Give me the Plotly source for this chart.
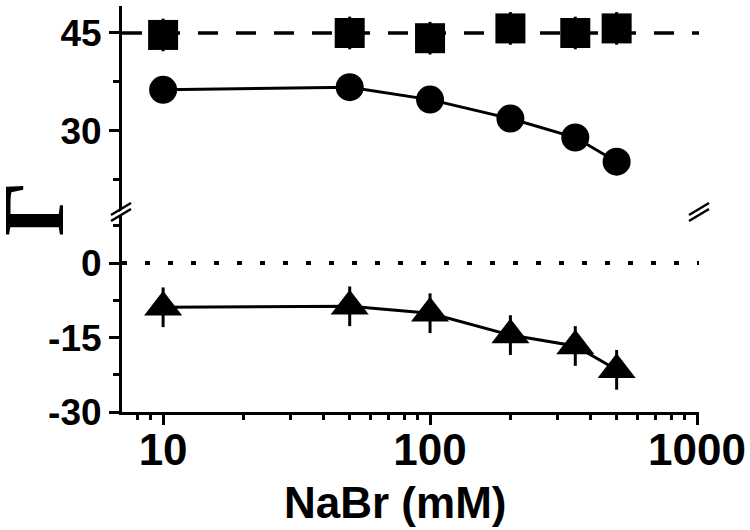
import plotly.graph_objects as go

# ---------------- data ----------------
nabr_mM = [10, 50, 100, 200, 350, 500]
gamma_square = [44.7, 45.0, 44.2, 45.7, 45.0, 45.7]
gamma_square_err = [2.5, 2.5, 2.5, 2.5, 2.5, 2.5]
gamma_circle = [36.3, 36.7, 34.8, 31.9, 29.0, 25.3]
gamma_triangle = [-8.9, -8.7, -10.1, -14.5, -16.7, -21.5]
gamma_triangle_err = [4.0, 4.0, 4.0, 4.0, 4.0, 4.0]
square_reference = 45
zero_reference = 0

x_tick_vals = [10, 100, 1000]
x_tick_text = ["10", "100", "1000"]
x_minor_vals = [7, 8, 9, 20, 30, 40, 50, 60, 70, 80, 90,
                200, 300, 400, 500, 600, 700, 800, 900]
upper_tick_vals = [30, 45]
upper_tick_text = ["30", "45"]
upper_minor_vals = [22.5, 37.5]
lower_tick_vals = [-30, -15, 0]
lower_tick_text = ["-30", "-15", "0"]
lower_minor_vals = [-22.5, -7.5, 7.5]

x_title = "NaBr (mM)"
y_title = "Γ"

# ---------------- layout geometry ----------------
W, H = 750, 530
L, R, T, B = 122, 51, 6, 118
PW, PH = W - L - R, H - T - B
BREAK_PX = 212
split = (T + PH - BREAK_PX) / PH

x_range = [0.846, 3.0075]
upper_range = [17.6, 49.13]
lower_range = [-30, 10.3]

FONT = "Liberation Sans, Arial, sans-serif"
BLACK = "#000000"


def px(xp, yp):
    return (xp - L) / PW, (T + PH - yp) / PH


fig = go.Figure()

fig.add_trace(go.Scatter(
    x=nabr_mM, y=gamma_square, xaxis="x", yaxis="y2", mode="markers",
    marker=dict(symbol="square", size=30, color=BLACK, line=dict(width=0)),
    error_y=dict(type="data", array=gamma_square_err, color=BLACK,
                 thickness=3, width=0),
    showlegend=False))

fig.add_trace(go.Scatter(
    x=nabr_mM, y=gamma_circle, xaxis="x", yaxis="y2", mode="lines+markers",
    line=dict(color=BLACK, width=3),
    marker=dict(symbol="circle", size=28, color=BLACK, line=dict(width=0)),
    showlegend=False))

fig.add_trace(go.Scatter(
    x=nabr_mM, y=gamma_triangle, xaxis="x", yaxis="y", mode="lines+markers",
    line=dict(color=BLACK, width=3),
    marker=dict(symbol="triangle-up", size=33, color=BLACK, line=dict(width=0)),
    error_y=dict(type="data", array=gamma_triangle_err, color=BLACK,
                 thickness=3, width=0),
    showlegend=False))

common_axis = dict(showgrid=False, zeroline=False, showline=True,
                   linecolor=BLACK, linewidth=3, tickcolor=BLACK,
                   tickwidth=3, automargin=False)
tick_font = dict(family=FONT, size=37, color=BLACK, weight="bold")

fig.update_layout(
    width=W, height=H,
    margin=dict(l=L, r=R, t=T, b=B, autoexpand=False),
    paper_bgcolor="white", plot_bgcolor="white",
    font=dict(family=FONT, color=BLACK),
    hovermode=False,
    xaxis=dict(type="log", range=x_range, domain=[0, 1], anchor="y",
               tickmode="array", tickvals=x_tick_vals, ticktext=x_tick_text,
               ticks="outside", ticklen=10, ticklabelstandoff=-13,
               tickfont=dict(family=FONT, size=44, color=BLACK, weight="bold"),
               minor=dict(tickmode="array", tickvals=x_minor_vals,
                          ticks="outside", ticklen=5, tickwidth=3,
                          tickcolor=BLACK, showgrid=False),
               **common_axis),
    xaxis2=dict(type="log", range=x_range, overlaying="x", anchor="y2",
                side="top", tickmode="array", tickvals=x_tick_vals,
                ticks="inside", ticklen=8, showticklabels=False,
                minor=dict(tickmode="array", tickvals=x_minor_vals,
                           ticks="inside", ticklen=4, tickwidth=3,
                           tickcolor=BLACK, showgrid=False),
                **common_axis),
    yaxis=dict(domain=[0, split], range=lower_range, anchor="x",
               tickmode="array", tickvals=lower_tick_vals,
               ticktext=lower_tick_text, ticks="outside", ticklen=10,
               tickfont=tick_font,
               minor=dict(tickmode="array", tickvals=lower_minor_vals,
                          ticks="outside", ticklen=6, tickwidth=3,
                          tickcolor=BLACK, showgrid=False),
               **common_axis),
    yaxis2=dict(domain=[split, 1], range=upper_range, anchor="x",
                tickmode="array", tickvals=upper_tick_vals,
                ticktext=upper_tick_text, ticks="outside", ticklen=10,
                tickfont=tick_font,
                minor=dict(tickmode="array", tickvals=upper_minor_vals,
                           ticks="outside", ticklen=6, tickwidth=3,
                           tickcolor=BLACK, showgrid=False),
                **common_axis),
    yaxis3=dict(overlaying="y", side="right", anchor="x", range=lower_range,
                tickmode="array", tickvals=lower_tick_vals, ticks="inside",
                ticklen=10, showticklabels=False,
                minor=dict(tickmode="array", tickvals=lower_minor_vals,
                           ticks="inside", ticklen=5, tickwidth=3,
                           tickcolor=BLACK, showgrid=False),
                **common_axis),
    yaxis4=dict(overlaying="y2", side="right", anchor="x", range=upper_range,
                tickmode="array", tickvals=upper_tick_vals, ticks="inside",
                ticklen=10, showticklabels=False,
                minor=dict(tickmode="array", tickvals=upper_minor_vals,
                           ticks="inside", ticklen=5, tickwidth=3,
                           tickcolor=BLACK, showgrid=False),
                **common_axis),
)

# reference lines
fig.add_shape(type="line", xref="x domain", x0=0, x1=1, yref="y2",
              y0=square_reference, y1=square_reference, layer="below",
              line=dict(color=BLACK, width=3.5, dash="20px,18px"))
fig.add_shape(type="line", xref="x domain", x0=0, x1=1, yref="y",
              y0=zero_reference, y1=zero_reference, layer="below",
              line=dict(color=BLACK, width=4, dash="5px,18px"))

# axis-break marks
for xc in (121, 699):
    x0, y0 = px(xc - 8, BREAK_PX + 6)
    x1, y1 = px(xc + 8, BREAK_PX - 5)
    fig.add_shape(type="line", xref="paper", yref="paper",
                  x0=x0, y0=y0, x1=x1, y1=y1,
                  line=dict(color="white", width=3))
    for off in (-3, 3):
        x0, y0 = px(xc - 10, BREAK_PX + 6 + off)
        x1, y1 = px(xc + 10, BREAK_PX - 6 + off)
        fig.add_shape(type="line", xref="paper", yref="paper",
                      x0=x0, y0=y0, x1=x1, y1=y1,
                      line=dict(color=BLACK, width=2.5))

# axis titles
tx, ty = px(395, 503)
fig.add_annotation(text=x_title, xref="paper", yref="paper", x=tx, y=ty,
                   showarrow=False, xanchor="center", yanchor="middle",
                   font=dict(family=FONT, size=44, color=BLACK, weight="bold"))
gx, gy = px(34, 209)
fig.add_annotation(text=y_title, xref="paper", yref="paper", x=gx, y=gy,
                   showarrow=False, xanchor="center", yanchor="middle",
                   textangle=-90,
                   font=dict(family="Liberation Serif, Times New Roman, serif",
                             size=86, color=BLACK, weight="bold"))

fig.write_html("out.html",
               config={"displayModeBar": False, "staticPlot": True},
               post_script="document.body.style.margin='0px';"
                           "document.body.style.padding='0px';")
